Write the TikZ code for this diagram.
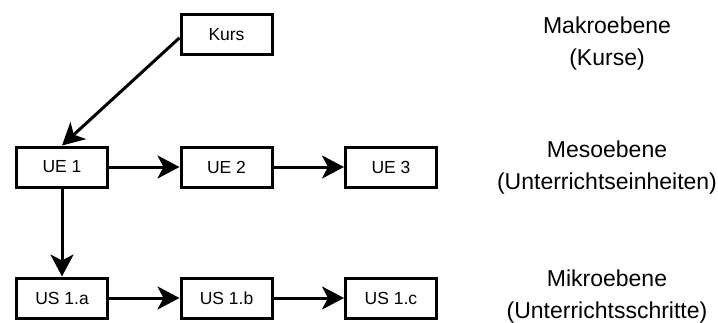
\documentclass[tikz,border=0pt]{standalone}
\usepackage{fontspec}
\setmainfont{Liberation Sans}
\usetikzlibrary{arrows.meta}

\tikzset{
  ebox/.style={draw,line width=3pt,minimum width=91pt,minimum height=40pt,inner sep=0pt,
    font=\fontsize{17.5}{21}\selectfont},
  pfeil/.style={-{Stealth[length=22pt,width=23pt,inset=6pt]},line width=3pt},
  ebene/.style={align=center,anchor=base,font=\fontsize{23}{32}\selectfont}
}

\begin{document}
\begin{tikzpicture}[x=1pt,y=1pt,node distance=164.5pt]
  \useasboundingbox (0,0) rectangle (718,322);

  % Einheiten und Kurs
  \node [ebox] (ue1) at (62,155) {UE 1};
  \node [ebox,right of=ue1] (ue2) {UE 2};
  \node [ebox,right of=ue2] (ue3) {UE 3};
  \node [ebox,node distance=132.5pt,above of=ue2] (kurs) {Kurs};

  % Schritte
  \node [ebox,node distance=131pt,below of=ue1] (us1a) {US 1.a};
  \node [ebox,right of=us1a] (us1b) {US 1.b};
  \node [ebox,right of=us1b] (us1c) {US 1.c};

  % Ebenen (base = letzte Zeile)
  \node [ebene] (makro) at (607,256) {Makroebene\\(Kurse)};
  \node [ebene] (meso) at (607,133) {Mesoebene\\(Unterrichtseinheiten)};
  \node [ebene] (mikro) at (607,3.7) {Mikroebene\\(Unterrichtsschritte)};

  \draw[pfeil] (kurs.184) -- (ue1.north);
  \draw[pfeil] (ue1) -- (ue2);
  \draw[pfeil] (ue2) -- (ue3);
  \draw[pfeil] (ue1) -- (us1a);
  \draw[pfeil] (us1a) -- (us1b);
  \draw[pfeil] (us1b) -- (us1c);
\end{tikzpicture}
\end{document}
